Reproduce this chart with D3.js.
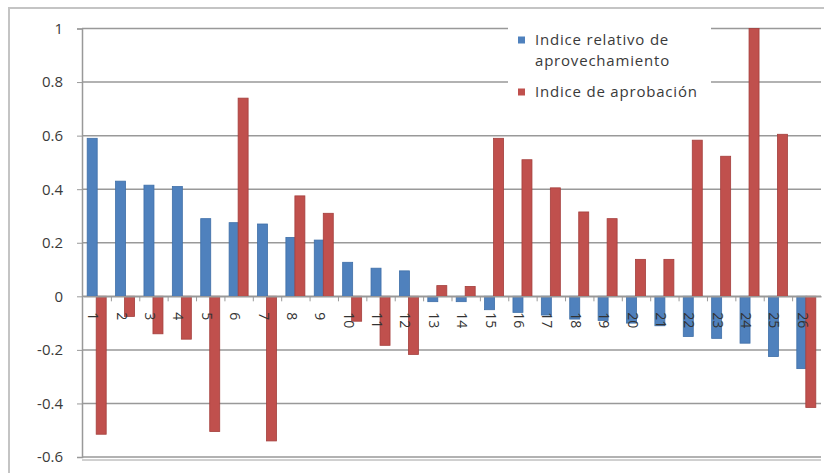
<!DOCTYPE html>
<meta charset="utf-8">
<style>
body { margin: 0; background: #fff; }
svg { display: block; }
.tick text { font-family: "Open Sans", sans-serif; }
</style>
<body>
<div id="chart"></div>
<script src="https://cdn.jsdelivr.net/npm/d3@7"></script>
<script>

var categories = d3.range(1, 27).map(String);

var aprovechamiento = [0.59, 0.43, 0.415, 0.41, 0.29, 0.275, 0.27, 0.22, 0.21, 0.127, 0.105, 0.095,
    -0.02, -0.02, -0.05, -0.06, -0.07, -0.085, -0.09, -0.1, -0.11, -0.15, -0.157, -0.175, -0.225, -0.27];

var aprobacion = [-0.515, -0.075, -0.14, -0.16, -0.505, 0.74, -0.54, 0.375, 0.31, -0.093, -0.183, -0.217,
    0.04, 0.037, 0.59, 0.51, 0.405, 0.315, 0.29, 0.138, 0.138, 0.583, 0.523, 1.0, 0.605, -0.415];

var yTicks = [-0.6, -0.4, -0.2, 0, 0.2, 0.4, 0.6, 0.8, 1];

var seriesNames = ["Indice relativo de|aprovechamiento", "Indice de aprobación"];

var width = 824,
    height = 473;

var svg = d3.select("#chart").append("svg")
    .attr("width", width)
    .attr("height", height);

// outer chart frame
svg.append("rect")
    .attr("x", 9).attr("y", 8)
    .attr("width", 830).attr("height", 480)
    .attr("fill", "none")
    .attr("stroke", "#c4c4c4")
    .attr("stroke-width", 2);

var x = d3.scaleBand()
    .domain(categories)
    .range([83, 821]);

var y = d3.scaleLinear()
    .domain([-0.6, 1])
    .range([457, 28.5]);

// gridlines
svg.append("g").selectAll("line")
    .data(yTicks)
    .enter().append("line")
    .attr("x1", 82).attr("x2", 821)
    .attr("y1", function(d) { return y(d); })
    .attr("y2", function(d) { return y(d); })
    .attr("stroke", "#999")
    .attr("stroke-width", 1.5);

svg.append("line")
    .attr("x1", 82).attr("x2", 821)
    .attr("y1", y(-0.6) + 3).attr("y2", y(-0.6) + 3)
    .attr("stroke", "#d0d0d0")
    .attr("stroke-width", 2);

// y axis
var yAxis = svg.append("g")
    .attr("transform", "translate(82,0)")
    .call(d3.axisLeft(y).tickValues(yTicks).tickSize(5).tickPadding(14)
        .tickFormat(function(d) { return d === 0 ? "0" : String(d); }));
yAxis.select(".domain").attr("stroke", "#999").attr("stroke-width", 1.5);
yAxis.selectAll(".tick line").attr("stroke", "#999");
yAxis.selectAll(".tick text").attr("font-size", 15).attr("fill", "#3a3a3a");

// bars
var c0 = "#4F81BD", c1 = "#C0504D";

svg.append("g").selectAll("rect")
    .data(aprovechamiento)
    .enter().append("rect")
    .attr("x", function(d, i) { return x(categories[i]) + x.bandwidth() / 2 - 10; })
    .attr("y", function(d) { return y(Math.max(0, d)); })
    .attr("width", 10)
    .attr("height", function(d) { return Math.abs(y(d) - y(0)); })
    .attr("fill", c0)
    .attr("stroke", "#3f6fa8")
    .attr("stroke-width", 0.8);

svg.append("g").selectAll("rect")
    .data(aprobacion)
    .enter().append("rect")
    .attr("x", function(d, i) { return x(categories[i]) + x.bandwidth() / 2 - 1; })
    .attr("y", function(d) { return y(Math.max(0, d)); })
    .attr("width", 10)
    .attr("height", function(d) { return Math.abs(y(d) - y(0)); })
    .attr("fill", c1)
    .attr("stroke", "#a43f3c")
    .attr("stroke-width", 0.8);

// category axis on zero
var xAxis = svg.append("g")
    .attr("transform", "translate(0," + y(0) + ")")
    .call(d3.axisBottom(x).tickSize(0).tickPadding(0));
xAxis.select(".domain").attr("stroke", "#999").attr("stroke-width", 1.5);
xAxis.selectAll(".tick text")
    .attr("font-size", 14)
    .attr("fill", "#333")
    .attr("text-anchor", "start")
    .attr("dy", null)
    .attr("transform", "translate(-9,16) rotate(90)");

xAxis.append("g").selectAll("line")
    .data(categories.slice(1))
    .enter().append("line")
    .attr("x1", function(d) { return x(d); })
    .attr("x2", function(d) { return x(d); })
    .attr("y1", 0).attr("y2", 5)
    .attr("stroke", "#999");

// legend
var legend = svg.append("g");
legend.append("rect")
    .attr("x", 508).attr("y", 20)
    .attr("width", 203).attr("height", 98)
    .attr("fill", "#fff");

var entries = [
    { color: c0, lines: seriesNames[0].split("|"), y: 40 },
    { color: c1, lines: seriesNames[1].split("|"), y: 92 }
];

entries.forEach(function(e) {
    legend.append("rect")
        .attr("x", 518).attr("y", e.y - 3.5)
        .attr("width", 7).attr("height", 7)
        .attr("fill", e.color);
    e.lines.forEach(function(t, j) {
        legend.append("text")
            .attr("x", 535)
            .attr("y", e.y + j * 21)
            .attr("dy", "0.35em")
            .attr("font-family", "Open Sans, sans-serif")
            .attr("font-size", 15)
            .attr("letter-spacing", 0.8)
            .attr("fill", "#3a3a3a")
            .text(t);
    });
});

</script>
